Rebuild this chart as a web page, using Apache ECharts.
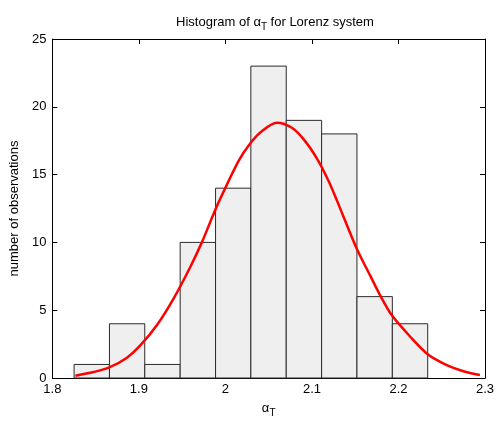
<!DOCTYPE html>
<html>
<head>
<meta charset="utf-8">
<script src="https://cdn.jsdelivr.net/npm/echarts@6/dist/echarts.min.js"></script>
<style>html,body{margin:0;padding:0;background:#fff;}#c{width:498px;height:423px;}</style>
</head>
<body>
<div id="c"></div>
<script>
const binEdges = [1.8251, 1.8660, 1.9068, 1.9477, 1.9886, 2.0294, 2.0703, 2.1112, 2.1520, 2.1929, 2.2338];
const counts = [1, 4, 1, 10, 14, 23, 19, 18, 6, 4];
const curveX = [1.8266, 1.8477, 1.8658, 1.8862, 1.9016, 1.9209, 1.9401, 1.9594, 1.9729, 1.9824, 1.9921, 2.0151, 2.0286, 2.0421, 2.0594, 2.0768, 2.0921, 2.1075, 2.1191, 2.1288, 2.1518, 2.1672, 2.1788, 2.1922, 2.2134, 2.2338, 2.2558, 2.2750, 2.2942];
const curveY = [0.17, 0.44, 0.78, 1.5, 2.4, 3.91, 5.86, 8.19, 10.02, 11.49, 12.95, 16.0, 17.3, 18.2, 18.82, 18.45, 17.47, 16.0, 14.54, 13.1, 9.53, 7.57, 6.1, 4.64, 3.06, 1.75, 0.95, 0.5, 0.22];
const xTicks = [1.8, 1.9, 2.0, 2.1, 2.2, 2.3];
const yTicks = [0, 5, 10, 15, 20, 25];

const FONT = 'Liberation Sans, Arial, sans-serif';
const FS = 13;
const chart = echarts.init(document.getElementById('c'), null, {renderer: 'canvas'});

const barData = counts.map((c, i) => [binEdges[i], binEdges[i + 1], c]);
const lineData = curveX.map((x, i) => [x, curveY[i]]);

const axisLineStyle = {color: '#000', width: 1};
const subRich = {
  a: {fontSize: FS, fontFamily: FONT, color: '#000'},
  s: {fontSize: 10, fontFamily: FONT, color: '#000', padding: [9, 0, 0, 0]}
};
const mirrorAxis = {
  axisLine: {show: true, onZero: false, lineStyle: axisLineStyle},
  axisTick: {show: true, inside: true, length: 5, lineStyle: axisLineStyle},
  axisLabel: {show: false}, splitLine: {show: false}
};

chart.setOption({
  animation: false,
  backgroundColor: '#fff',
  title: {
    text: '{a|Histogram of α}{s|T}{a| for Lorenz system}',
    left: 270, top: 8, textAlign: 'center',
    textStyle: {fontSize: FS, fontWeight: 'normal', fontFamily: FONT, color: '#000', rich: subRich}
  },
  grid: {left: 52, right: 13, top: 39, bottom: 43, containLabel: false},
  xAxis: [{
    type: 'value', min: 1.8, max: 2.3, interval: 0.1,
    position: 'bottom',
    name: '{a|α}{s|T}', nameLocation: 'middle', nameGap: 21,
    nameTextStyle: {rich: subRich},
    axisLine: {show: true, onZero: false, lineStyle: axisLineStyle},
    axisTick: {show: true, inside: true, length: 5, lineStyle: axisLineStyle},
    axisLabel: {fontSize: FS, fontFamily: FONT, color: '#000', margin: 5,
      formatter: v => { const t = xTicks.find(k => Math.abs(k - v) < 1e-9); return t === undefined ? '' : String(t); }},
    splitLine: {show: false}
  }, Object.assign({type: 'value', min: 1.8, max: 2.3, interval: 0.1, position: 'top'}, mirrorAxis)],
  yAxis: [{
    type: 'value', min: 0, max: 25, interval: 5,
    position: 'left',
    name: 'number of observations', nameLocation: 'middle', nameGap: 29, nameRotate: 90,
    nameTextStyle: {fontSize: FS, fontFamily: FONT, color: '#000'},
    axisLine: {show: true, onZero: false, lineStyle: axisLineStyle},
    axisTick: {show: true, inside: true, length: 5, lineStyle: axisLineStyle},
    axisLabel: {fontSize: FS, fontFamily: FONT, color: '#000', margin: 6,
      formatter: v => { const t = yTicks.find(k => k === v); return t === undefined ? '' : String(t); }},
    splitLine: {show: false}
  }, Object.assign({type: 'value', min: 0, max: 25, interval: 5, position: 'right'}, mirrorAxis)],
  series: [{
    type: 'custom',
    xAxisIndex: 0, yAxisIndex: 0,
    data: barData,
    encode: {x: [0, 1], y: 2},
    renderItem: function (params, api) {
      const p0 = api.coord([api.value(0), api.value(2)]);
      const p1 = api.coord([api.value(1), 0]);
      return {
        type: 'rect',
        shape: {x: p0[0], y: p0[1], width: p1[0] - p0[0], height: p1[1] - p0[1]},
        style: {fill: '#efefef', stroke: '#2a2a2a', lineWidth: 1}
      };
    },
    z: 2
  }, {
    type: 'line',
    xAxisIndex: 0, yAxisIndex: 0,
    data: lineData,
    smooth: 0.3,
    symbol: 'none',
    lineStyle: {color: '#ff0000', width: 2.5},
    z: 3
  }]
});
</script>
</body>
</html>
